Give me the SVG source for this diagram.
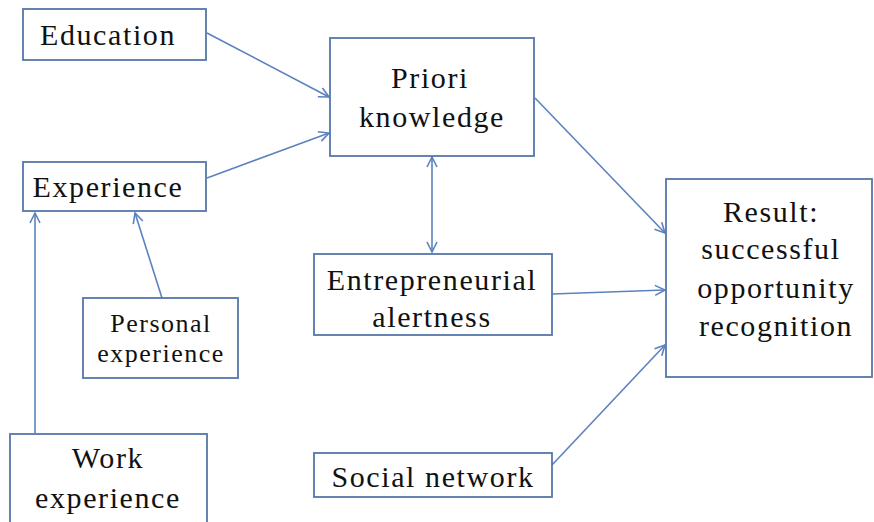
<svg xmlns="http://www.w3.org/2000/svg" width="874" height="522" viewBox="0 0 874 522">
<style>
.box{fill:#fff;stroke:#5577aa;stroke-width:1.8}
.t{font-family:'Liberation Serif','Times New Roman',serif;font-size:30px;letter-spacing:1.6px;fill:#111;text-anchor:middle}
.s{font-size:26px;letter-spacing:1.5px}
.c{stroke:#5b82bf;stroke-width:1.6;fill:none}
</style>
<defs>
<marker id="ah" markerUnits="userSpaceOnUse" markerWidth="14" markerHeight="14" refX="11" refY="6" orient="auto-start-reverse" viewBox="0 0 14 12">
<path d="M1,1 L11,6 L1,11" fill="none" stroke="#5b82bf" stroke-width="1.6"/>
</marker>
</defs>
<rect width="874" height="522" fill="#fff"/>
<g id="connectors">
<line class="c" x1="207" y1="33" x2="329" y2="97" marker-end="url(#ah)"/>
<line class="c" x1="207" y1="178" x2="329" y2="133" marker-end="url(#ah)"/>
<line class="c" x1="432" y1="157" x2="432" y2="252" marker-start="url(#ah)" marker-end="url(#ah)"/>
<line class="c" x1="535" y1="98" x2="665" y2="233" marker-end="url(#ah)"/>
<line class="c" x1="552" y1="294" x2="665" y2="290" marker-end="url(#ah)"/>
<line class="c" x1="552" y1="465" x2="665" y2="345" marker-end="url(#ah)"/>
<line class="c" x1="162" y1="298" x2="135" y2="213" marker-end="url(#ah)"/>
<line class="c" x1="35" y1="433" x2="35" y2="213" marker-end="url(#ah)"/>
</g>
<g id="education">
<rect class="box" x="23" y="9" width="183" height="51"/>
<text class="t" x="108" y="45">Education</text>
</g>
<g id="experience">
<rect class="box" x="23" y="162" width="183" height="49"/>
<text class="t" x="108" y="197">Experience</text>
</g>
<g id="priori">
<rect class="box" x="330" y="38" width="204" height="118"/>
<text class="t" x="430" y="88">Priori</text>
<text class="t" x="432" y="127">knowledge</text>
</g>
<g id="alertness">
<rect class="box" x="314" y="254" width="238" height="81"/>
<text class="t" x="432" y="290">Entrepreneurial</text>
<text class="t" x="432" y="327">alertness</text>
</g>
<g id="result">
<rect class="box" x="666" y="179" width="206" height="198"/>
<text class="t" x="771" y="222">Result:</text>
<text class="t" x="771" y="259">successful</text>
<text class="t" x="776" y="298">opportunity</text>
<text class="t" x="776" y="336">recognition</text>
</g>
<g id="personal">
<rect class="box" x="83" y="298" width="155" height="80"/>
<text class="t s" x="161" y="332">Personal</text>
<text class="t s" x="161" y="362">experience</text>
</g>
<g id="work">
<rect class="box" x="10" y="434" width="197" height="100"/>
<text class="t" x="108" y="468">Work</text>
<text class="t" x="108" y="508">experience</text>
</g>
<g id="social">
<rect class="box" x="314" y="453" width="238" height="44"/>
<text class="t" x="433" y="487">Social network</text>
</g>
</svg>
